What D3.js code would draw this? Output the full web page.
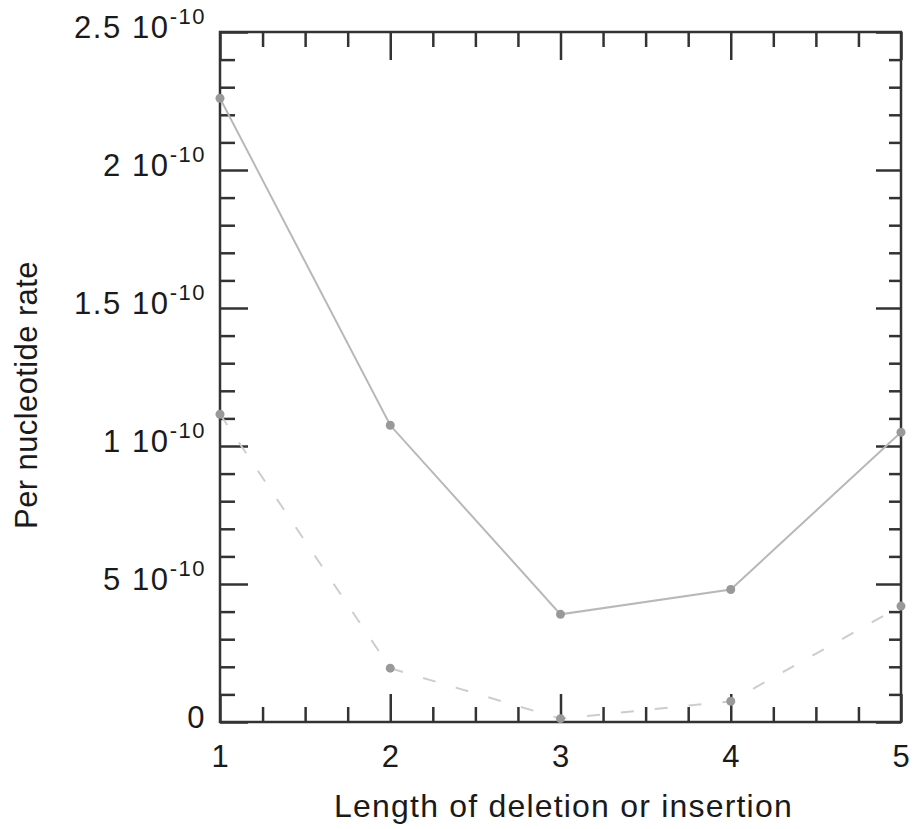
<!DOCTYPE html>
<html>
<head>
<meta charset="utf-8">
<script src="https://cdn.jsdelivr.net/npm/d3@7"></script>
<style>
  body { margin: 0; background: #fff; }
  text { font-family: "Liberation Sans", Arial, sans-serif; fill: #1a1a1a; }
</style>
</head>
<body>
<svg id="chart" width="914" height="829"></svg>
<script>
const lengths = [1, 2, 3, 4, 5];
const solidRates = [2.26e-10, 1.075e-10, 0.39e-10, 0.48e-10, 1.05e-10];
const dashedRates = [1.115e-10, 0.195e-10, 0.012e-10, 0.075e-10, 0.42e-10];
const yTickValues = [0, 0.5e-10, 1e-10, 1.5e-10, 2e-10, 2.5e-10];
const yTickLabels = [["0", ""], ["5 10", "-10"], ["1 10", "-10"], ["1.5 10", "-10"], ["2 10", "-10"], ["2.5 10", "-10"]];

const svg = d3.select("#chart");
const plotLeft = 220, plotRight = 901, plotTop = 32, plotBottom = 722;

const x = d3.scaleLinear().domain([1, 5]).range([plotLeft, plotRight]);
const y = d3.scaleLinear().domain([0, 2.5e-10]).range([plotBottom, plotTop]);

const xMinor = d3.range(1, 5.001, 0.25).filter(v => v % 1 !== 0);
const yMinor = d3.range(0, 25.001, 1).filter(v => v % 5 !== 0).map(v => v * 1e-11);

function styleAxis(g) {
    g.select(".domain").remove();
    g.selectAll("line").attr("stroke", "#333").attr("stroke-width", 2.5);
    g.selectAll("text").remove();
}

// bottom
svg.append("g").attr("transform", `translate(0,${plotBottom})`)
    .call(d3.axisBottom(x).tickValues(lengths).tickSize(-28)).call(styleAxis);
svg.append("g").attr("transform", `translate(0,${plotBottom})`)
    .call(d3.axisBottom(x).tickValues(xMinor).tickSize(-15)).call(styleAxis);
// top
svg.append("g").attr("transform", `translate(0,${plotTop})`)
    .call(d3.axisTop(x).tickValues(lengths).tickSize(-28)).call(styleAxis);
svg.append("g").attr("transform", `translate(0,${plotTop})`)
    .call(d3.axisTop(x).tickValues(xMinor).tickSize(-15)).call(styleAxis);
// left
svg.append("g").attr("transform", `translate(${plotLeft},0)`)
    .call(d3.axisLeft(y).tickValues(yTickValues).tickSize(-28)).call(styleAxis);
svg.append("g").attr("transform", `translate(${plotLeft},0)`)
    .call(d3.axisLeft(y).tickValues(yMinor).tickSize(-15)).call(styleAxis);
// right
svg.append("g").attr("transform", `translate(${plotRight},0)`)
    .call(d3.axisRight(y).tickValues(yTickValues).tickSize(-25)).call(styleAxis);
svg.append("g").attr("transform", `translate(${plotRight},0)`)
    .call(d3.axisRight(y).tickValues(yMinor).tickSize(-12)).call(styleAxis);

svg.append("rect")
    .attr("x", plotLeft).attr("y", plotTop)
    .attr("width", plotRight - plotLeft).attr("height", plotBottom - plotTop)
    .attr("fill", "none").attr("stroke", "#333").attr("stroke-width", 2.5);

// y tick labels
const yl = svg.append("g").selectAll("text")
    .data(yTickValues)
    .enter()
    .append("text")
    .attr("x", plotLeft - 14)
    .attr("y", d => y(d) + 6)
    .attr("text-anchor", "end")
    .style("font-size", "31px")
    .style("letter-spacing", "1.6px");
yl.append("tspan").text((d, i) => yTickLabels[i][0]);
yl.append("tspan").attr("dy", -14).style("font-size", "22px").style("letter-spacing", "1.5px")
    .text((d, i) => yTickLabels[i][1]);

// x tick labels
svg.append("g").selectAll("text")
    .data(lengths)
    .enter()
    .append("text")
    .attr("x", d => x(d))
    .attr("y", 767)
    .attr("text-anchor", "middle")
    .style("font-size", "31px")
    .text(d => d);

svg.append("text")
    .attr("x", (plotLeft + plotRight) / 2 + 3)
    .attr("y", 817)
    .attr("text-anchor", "middle")
    .style("font-size", "32px")
    .style("letter-spacing", "1.2px")
    .text("Length of deletion or insertion");

svg.append("text")
    .attr("transform", "translate(37,395) rotate(-90)")
    .attr("text-anchor", "middle")
    .style("font-size", "31px")
    .style("letter-spacing", "0.4px")
    .text("Per nucleotide rate");

// series
const line = d3.line().x((d, i) => x(lengths[i])).y(d => y(d));

svg.append("path")
    .datum(dashedRates)
    .attr("d", line)
    .attr("fill", "none")
    .attr("stroke", "#cdcdcd")
    .attr("stroke-width", 2)
    .attr("stroke-dasharray", "13,21");

svg.append("path")
    .datum(solidRates)
    .attr("d", line)
    .attr("fill", "none")
    .attr("stroke", "#b8b8b8")
    .attr("stroke-width", 2);

[solidRates, dashedRates].forEach(series => {
    svg.append("g").selectAll("circle")
        .data(series)
        .enter()
        .append("circle")
        .attr("cx", (d, i) => x(lengths[i]))
        .attr("cy", d => y(d))
        .attr("r", 4.5)
        .attr("fill", "#999");
});
</script>
</body>
</html>
